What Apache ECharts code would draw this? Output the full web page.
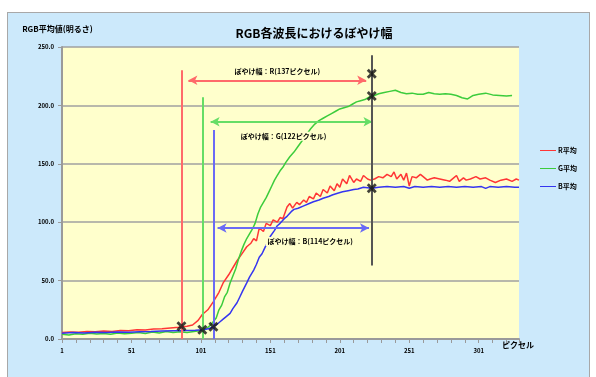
<!DOCTYPE html>
<html>
<head>
<meta charset="utf-8">
<script src="https://cdn.jsdelivr.net/npm/echarts@6/dist/echarts.min.js"></script>
<style>
  html, body { margin: 0; padding: 0; background: #fff; }
  #wrap { position: relative; width: 596px; height: 377px; overflow: hidden; }
  #box { position: absolute; left: 7px; top: 12px; width: 583px; height: 370px;
         background: #cce9fb; border: 1px solid #a8a8a8; box-sizing: border-box; }
  #chart { position: absolute; left: 0; top: 0; width: 596px; height: 377px; }
</style>
</head>
<body>
<div id="wrap">
  <div id="box"></div>
  <div id="chart"></div>
</div>
<script>
// ピクセル位置 (0始まり) と各色の平均値
const rX = [0, 6, 12, 18, 24, 30, 36, 42, 48, 54, 60, 66, 72, 78, 84, 90, 94, 98, 101, 105, 109, 113, 116, 120, 123, 126, 129, 133, 136, 138, 140, 142, 145, 147, 150, 152, 155, 157, 159, 162, 164, 166, 169, 171, 174, 176, 178, 181, 183, 186, 188, 191, 193, 196, 198, 200, 202, 205, 207, 210, 212, 215, 217, 220, 222, 225, 228, 231, 234, 237, 239, 241, 244, 246, 248, 250, 252, 255, 258, 260, 263, 265, 268, 272, 276, 279, 282, 284, 286, 289, 291, 294, 298, 301, 305, 308, 312, 316, 320, 324, 327, 329]
const rY = [5.5, 6, 5.8, 6.5, 6.3, 6.8, 6.5, 7.2, 7, 8, 7.8, 8.5, 8.8, 9.5, 10, 11, 12, 16, 21, 25, 32, 40, 48, 55, 61, 67, 72, 79, 82, 86, 84, 95, 92, 99, 97, 102, 100, 104, 103, 113, 116, 112, 117, 115, 119, 117, 122, 120, 125, 122, 128, 125, 131, 127, 133, 130, 137, 133, 140, 134, 137, 135, 140, 137, 136, 137, 139, 138, 141, 139, 143, 137, 141, 136, 142, 131, 139, 138, 141, 139, 136, 137, 138, 137, 136, 135, 138, 140, 135, 138, 136, 137, 139, 137, 138, 136, 134, 136, 137, 135, 137, 136]

const gX = [0, 5, 10, 15, 20, 25, 30, 35, 40, 45, 50, 55, 60, 65, 70, 75, 80, 85, 90, 95, 99, 101, 103, 105, 107, 109, 111, 113, 115, 117, 119, 121, 123, 125, 127, 129, 131, 133, 135, 137, 139, 141, 143, 145, 147, 149, 151, 153, 155, 157, 159, 161, 164, 167, 170, 173, 176, 179, 182, 185, 188, 191, 194, 197, 200, 203, 206, 209, 212, 215, 218, 221, 224, 228, 232, 236, 240, 244, 248, 252, 256, 260, 264, 268, 272, 276, 280, 284, 288, 292, 296, 300, 305, 310, 315, 320, 324]
const gY = [4, 3.5, 4.5, 4, 5, 4.2, 4.8, 4, 5.2, 4.5, 5, 5.5, 4.8, 6, 5.2, 6.5, 5.5, 6.2, 5.5, 6.5, 7, 8, 8.5, 10, 12, 15, 18, 25, 29, 36, 40, 48, 54, 60, 68, 75, 81, 86, 90, 94, 99, 107, 113, 117, 121, 126, 131, 136, 140, 144, 147, 151, 156, 160, 165, 170, 175, 180, 184, 187, 189, 191, 193, 195, 197, 198, 199, 201, 203, 204, 205, 207, 208, 210, 211, 212, 213, 211, 210, 210.5, 209.5, 209.5, 211, 210, 209.5, 210, 209.5, 208.5, 206.5, 205.5, 208.5, 209.5, 210.5, 209, 208.5, 208, 208.5]

const bX = [0, 8, 16, 24, 32, 40, 48, 56, 64, 72, 80, 88, 96, 102, 106, 109, 111, 114, 116, 118, 121, 123, 126, 128, 130, 133, 135, 138, 140, 142, 144, 146, 148, 150, 153, 155, 157, 160, 162, 165, 167, 170, 174, 178, 181, 185, 188, 192, 195, 199, 202, 206, 210, 213, 217, 220, 223, 228, 234, 240, 246, 250, 254, 260, 266, 272, 278, 284, 290, 296, 302, 305, 308, 314, 320, 326, 329]
const bY = [5, 5.5, 5.2, 5.8, 5.5, 6, 5.8, 6.3, 6.5, 6.8, 7, 7.2, 7.5, 8, 9, 10.5, 12, 15, 17, 19, 22, 26, 31, 36, 41, 48, 53, 59, 64, 70, 73, 78, 83, 88, 93, 97, 99, 103, 105, 109, 111, 112, 114, 116, 117.5, 119, 120.5, 122, 123.5, 125, 126, 127, 128, 128.5, 130, 129.5, 129, 130, 130.5, 130, 130.5, 129, 130.5, 130, 130.5, 130, 130.5, 130, 130.5, 130, 130.5, 129, 130.5, 130, 130.5, 130, 130]

// ぼやけ開始位置・終了位置・幅
const blurStart = [86, 101, 109]
const blurEnd = 223
const blurWidth = [137, 122, 114]
const markX = [86, 101, 109, 223, 223, 223]
const markY = [11, 8, 10.5, 227, 208, 129]

const names = ['R平均', 'G平均', 'B平均']
const colors = ['#ff3535', '#3ccc3c', '#3535f0']
const guideColors = ['#ff6a6a', '#66dd66', '#6a6af5']

const FONT = '"Noto Sans CJK JP", sans-serif'
const pairs = (xs, ys) => xs.map((x, i) => [x, ys[i]])

const chart = echarts.init(document.getElementById('chart'))

// 縦線・矢印・ラベル
const guide = (k, top, arrowY, arrowL, arrowR, labelPos, labelDist, labelOff) => ({
    silent: true,
    symbol: 'none',
    animation: false,
    lineStyle: {color: guideColors[k], width: 2, type: 'solid'},
    data: [
        [{coord: [blurStart[k], top], symbol: 'none', label: {show: false}},
         {coord: [blurStart[k], 0], symbol: 'none'}],
        [{
            coord: [arrowL, arrowY], symbol: 'arrow', symbolSize: [7, 9],
            label: {
                show: true,
                formatter: 'ぼやけ幅：' + 'RGB'[k] + '(' + blurWidth[k] + 'ピクセル)',
                position: labelPos, distance: labelDist, offset: labelOff,
                fontFamily: FONT, fontSize: 7, fontWeight: 'bold', color: '#000',
                backgroundColor: '#ffffcc', padding: [1, 2]
            }
        }, {coord: [arrowR, arrowY], symbol: 'arrow', symbolSize: [7, 9]}]
    ]
})

const lineSeries = (k, xs, ys, ml) => ({
    name: names[k],
    type: 'line',
    data: pairs(xs, ys),
    symbol: 'none',
    lineStyle: {width: 1.5, color: colors[k]},
    itemStyle: {color: colors[k]},
    markLine: ml
})

const option = {
    animation: false,
    title: {
        text: 'RGB各波長におけるぼやけ幅',
        left: 309, top: 22, textAlign: 'center',
        textStyle: {fontFamily: FONT, fontSize: 12, fontWeight: 'bold', color: '#000'}
    },
    legend: {
        data: names,
        orient: 'vertical',
        left: 535, top: 142,
        itemWidth: 16, itemHeight: 8, itemGap: 11,
        icon: 'path://M0,3.5L16,3.5L16,4.5L0,4.5Z',
        textStyle: {fontFamily: FONT, fontSize: 7, fontWeight: 'bold', color: '#000', padding: [0, 0, 0, -3]}
    },
    grid: {
        left: 62, right: 77, top: 47, bottom: 38,
        show: true, backgroundColor: '#ffffcc', borderWidth: 0
    },
    xAxis: {
        type: 'value',
        min: 0, max: 329, interval: 50,
        name: 'ピクセル',
        nameLocation: 'end',
        nameGap: -21,
        nameTextStyle: {
            fontFamily: FONT, fontSize: 8, fontWeight: 'bold', color: '#000',
            backgroundColor: '#cce9fb', padding: [1, 6, 2, 4], verticalAlign: 'top', lineHeight: 10
        },
        axisLine: {show: true, onZero: false, lineStyle: {color: '#9a9a9a', width: 2}},
        axisTick: {show: true, length: 4, lineStyle: {color: '#9a9a9a'}},
        minorTick: {show: true, splitNumber: 5, length: 4, lineStyle: {color: '#9a9a9a'}},
        splitLine: {show: false},
        axisLabel: {
            formatter: (v) => String(v + 1),
            showMaxLabel: false,
            margin: 9,
            fontFamily: FONT, fontSize: 6, fontWeight: 'bold', color: '#000'
        }
    },
    yAxis: {
        type: 'value',
        min: 0, max: 250, interval: 50,
        name: 'RGB平均値(明るさ)',
        nameLocation: 'end',
        nameGap: 14,
        nameTextStyle: {
            fontFamily: FONT, fontSize: 8, fontWeight: 'bold', color: '#000',
            padding: [0, 9, 0, 0]
        },
        axisLine: {show: true, lineStyle: {color: '#9a9a9a', width: 2}},
        axisTick: {show: true, length: 4, lineStyle: {color: '#9a9a9a'}},
        splitLine: {show: true, lineStyle: {color: '#a0a0a0', width: 1.5}},
        axisLabel: {
            formatter: (v) => v.toFixed(1),
            margin: 8,
            fontFamily: FONT, fontSize: 6, fontWeight: 'bold', color: '#000'
        }
    },
    series: [
        lineSeries(0, rX, rY, guide(0, 230, 221.5, 91, 219, 'insideMiddleTop', 4, [0, 0])),
        lineSeries(1, gX, gY, guide(1, 207, 186, 107, 223.5, 'insideMiddleBottom', 10, [-8, 0])),
        lineSeries(2, bX, bY, guide(2, 179, 95, 112, 221, 'insideMiddleBottom', 9, [17, 0])),
        {
            name: 'mark',
            type: 'scatter',
            data: pairs(markX, markY),
            symbol: 'path://M2,0L5,3L8,0L10,2L7,5L10,8L8,10L5,7L2,10L0,8L3,5L0,2Z',
            symbolSize: 10,
            itemStyle: {color: '#111'},
            z: 6,
            markLine: {
                silent: true,
                symbol: 'none',
                label: {show: false},
                lineStyle: {color: '#555', width: 2, type: 'solid'},
                data: [[{coord: [blurEnd, 243]}, {coord: [blurEnd, 63]}]]
            }
        }
    ]
}

chart.setOption(option)
</script>
</body>
</html>
